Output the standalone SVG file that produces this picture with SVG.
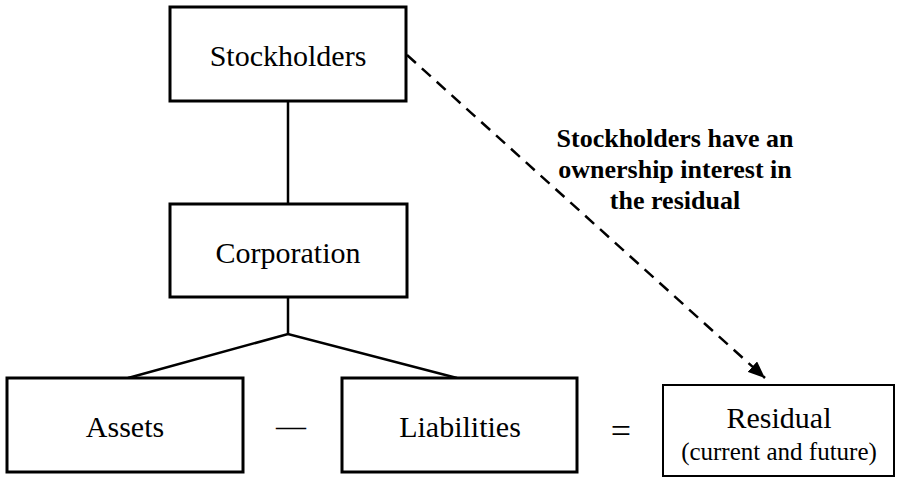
<svg xmlns="http://www.w3.org/2000/svg" width="897" height="479" viewBox="0 0 897 479">
  <style>
    .box { fill: #fff; stroke: #000; stroke-width: 3; }
    .box2 { fill: #fff; stroke: #000; stroke-width: 2; }
    text { font-family: 'Liberation Serif', 'DejaVu Serif', serif; fill: #000; text-anchor: middle; }
    .lbl { font-size: 30px; }
    .sub { font-size: 25px; }
    .note { font-size: 26px; font-weight: bold; }
    .line { stroke: #000; stroke-width: 2.5; fill: none; }
    .dash { stroke: #000; stroke-width: 2.5; fill: none; stroke-dasharray: 12 8; }
  </style>
  <defs>
    <marker id="arrow" markerUnits="userSpaceOnUse" markerWidth="18" markerHeight="14" refX="17" refY="7" orient="auto">
      <path d="M0,0 L17,7 L0,14 z" fill="#000"/>
    </marker>
  </defs>
  <rect width="897" height="479" fill="#fff"/>
  <g id="connectors">
    <line class="line" x1="288" y1="101" x2="288" y2="204"/>
    <polyline class="line" points="288,297 288,334"/>
    <polyline class="line" points="128,378 288,334 457,378"/>
    <line class="dash" x1="407" y1="55" x2="765" y2="378" marker-end="url(#arrow)"/>
  </g>
  <g id="stockholders">
    <rect class="box" x="170" y="7" width="236" height="94"/>
    <text class="lbl" x="288" y="66">Stockholders</text>
  </g>
  <g id="corporation">
    <rect class="box" x="170" y="204" width="237" height="93"/>
    <text class="lbl" x="288" y="263">Corporation</text>
  </g>
  <g id="assets">
    <rect class="box" x="7" y="378" width="236" height="94"/>
    <text class="lbl" x="125" y="437">Assets</text>
  </g>
  <g id="minus">
    <text class="lbl" x="291" y="436">—</text>
  </g>
  <g id="liabilities">
    <rect class="box" x="342" y="378" width="235" height="94"/>
    <text class="lbl" x="460" y="437">Liabilities</text>
  </g>
  <g id="equals">
    <text class="lbl" x="621" y="443" style="font-size:36px">=</text>
  </g>
  <g id="residual">
    <rect class="box2" x="663" y="385" width="231" height="91"/>
    <text class="lbl" x="779" y="428">Residual</text>
    <text class="sub" x="779" y="460">(current and future)</text>
  </g>
  <g id="note">
    <text class="note" x="675" y="147">Stockholders have an</text>
    <text class="note" x="675" y="178">ownership interest in</text>
    <text class="note" x="675" y="209">the residual</text>
  </g>
</svg>
